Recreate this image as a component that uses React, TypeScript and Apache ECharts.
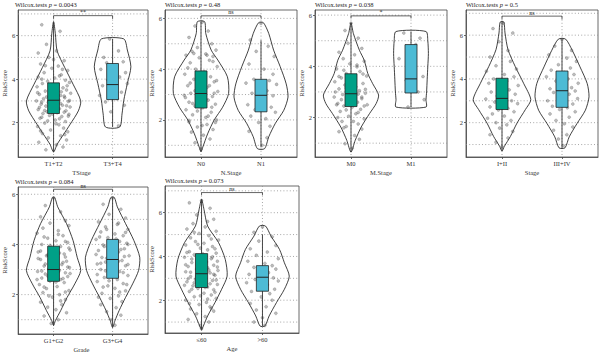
import React, { useEffect, useRef } from 'react';
import * as echarts from 'echarts';

const FONT = '"Liberation Serif", "DejaVu Serif", serif';

// ---------- data ----------
const P_VALUES = ['0.0043', '0.48', '0.038', '0.5', '0.084', '0.073'];
const AXIS_NAMES = ['TStage', 'N.Stage', 'M.Stage', 'Stage', 'Grade', 'Age'];
const CATEGORIES = [
  ['T1+T2', 'T3+T4'],
  ['N0', 'N1'],
  ['M0', 'M1'],
  ['I+II', 'III+IV'],
  ['G1+G2', 'G3+G4'],
  ['≤60', '>60'],
];
const SIGNIF = ['**', 'ns', '*', 'ns', 'ns', 'ns'];
const Y_RANGES = [[0.42, 7.18], [0.54, 6.33], [0.46, 6.2], [0.43, 7.15], [0.43, 6.29], [0.5, 7.22]];
const Y_TICKS = [2, 4, 6];
const GRID_VALUES = [1, 2, 3, 4, 5, 6, 7];
// bracket: [y of bar, y of tick ends]
const BRACKETS = [[6.92, 6.77], [6.1, 6.0], [5.97, 5.87], [6.87, 6.72], [6.2, 6.09], [6.92, 6.8]];

// box stats: [whisker low, Q1, median, Q3, whisker high]
const BOX_STATS = [
  [[0.65, 2.42, 3.03, 3.83, 6.6], [1.8, 3.06, 3.75, 4.72, 5.85]],
  [[0.75, 2.47, 3.04, 3.93, 5.87], [0.93, 2.32, 2.97, 3.6, 5.14]],
  [[0.65, 2.43, 2.93, 3.71, 5.7], [2.41, 2.96, 3.51, 4.85, 5.36]],
  [[0.7, 2.6, 3.11, 4.03, 6.6], [0.85, 2.7, 3.46, 4.36, 5.82]],
  [[0.77, 2.53, 3.0, 3.93, 5.87], [0.69, 2.65, 3.4, 4.2, 5.87]],
  [[0.65, 2.58, 3.21, 4.13, 6.61], [0.82, 2.41, 3.05, 3.58, 5.0]],
];

// violin outlines: [RiskScore, half width in category units], bottom to top
const VIOLIN_T12 = [[0.65, 0], [1.0, 0.06], [1.46, 0.17], [1.92, 0.28], [2.54, 0.42], [3.0, 0.46], [3.77, 0.33], [4.53, 0.19], [5.3, 0.06], [6.1, 0.03], [6.65, 0]];
const VIOLIN_T34 = [[1.8, 0.12], [2.4, 0.16], [3.03, 0.19], [3.8, 0.25], [4.57, 0.31], [5.34, 0.25], [5.85, 0.19]];
const VIOLIN_N0 = [[0.75, 0], [0.93, 0.03], [1.45, 0.11], [2.0, 0.22], [2.5, 0.36], [3.04, 0.46], [3.7, 0.44], [4.36, 0.28], [4.75, 0.17], [5.4, 0.08], [5.87, 0.06]];
const VIOLIN_N1 = [[0.87, 0.06], [1.34, 0.13], [1.87, 0.24], [2.38, 0.38], [2.9, 0.45], [3.42, 0.42], [4.1, 0.32], [4.75, 0.21], [5.4, 0.13], [5.83, 0.04]];
const VIOLIN_M0 = [[0.65, 0], [1.11, 0.07], [1.63, 0.17], [2.16, 0.31], [2.55, 0.42], [2.88, 0.46], [3.33, 0.36], [3.72, 0.28], [4.24, 0.22], [4.63, 0.14], [5.28, 0.04], [5.7, 0]];
const VIOLIN_M1 = [[2.41, 0.25], [2.7, 0.25], [3.0, 0.26], [3.5, 0.27], [4.0, 0.28], [4.5, 0.29], [5.0, 0.28], [5.36, 0.25]];
const VIOLIN_I12 = [[0.7, 0], [0.92, 0.04], [1.37, 0.14], [1.98, 0.25], [2.6, 0.39], [3.05, 0.48], [3.8, 0.36], [4.57, 0.22], [5.34, 0.1], [6.1, 0.05], [6.6, 0.03]];
const VIOLIN_I34 = [[0.85, 0.05], [1.35, 0.12], [1.96, 0.25], [2.57, 0.39], [3.18, 0.45], [3.79, 0.42], [4.55, 0.3], [5.31, 0.17], [5.82, 0.06]];
const VIOLIN_G12 = [[0.77, 0], [0.96, 0.03], [1.36, 0.12], [1.89, 0.23], [2.43, 0.36], [2.96, 0.46], [3.49, 0.4], [4.16, 0.33], [4.83, 0.22], [5.5, 0.07], [5.87, 0.02]];
const VIOLIN_G34 = [[0.69, 0], [0.96, 0.04], [1.36, 0.11], [1.89, 0.22], [2.43, 0.34], [2.96, 0.44], [3.49, 0.46], [4.16, 0.36], [4.83, 0.22], [5.5, 0.08], [5.87, 0.03]];
const VIOLIN_A1 = [[0.65, 0], [0.82, 0.03], [1.28, 0.1], [1.89, 0.22], [2.5, 0.33], [3.1, 0.42], [3.86, 0.39], [4.63, 0.28], [5.39, 0.1], [6.15, 0.04], [6.61, 0]];
const VIOLIN_A2 = [[0.82, 0.04], [1.28, 0.11], [1.89, 0.23], [2.5, 0.36], [3.1, 0.44], [3.71, 0.36], [4.32, 0.28], [4.93, 0.14], [5.39, 0.05]];

// jittered samples: [horizontal jitter, RiskScore]
const PTS_T12 = [[-0.2,6.5],[0.11,6.2],[-0.12,5.6],[0.05,5.3],[-0.08,5.0],[0.18,4.85],[-0.22,4.7],[0.08,4.6],[-0.03,4.5],[0.24,4.4],[-0.16,4.3],[0.13,4.2],[-0.26,4.1],[0.02,4.05],[0.2,3.95],[-0.1,3.9],[0.27,3.85],[-0.19,3.8],[0.07,3.72],[-0.28,3.65],[0.16,3.6],[-0.06,3.55],[0.22,3.5],[-0.14,3.45],[0.01,3.4],[0.29,3.35],[-0.24,3.3],[0.12,3.25],[-0.02,3.2],[0.19,3.15],[-0.17,3.1],[0.09,3.05],[-0.29,3.0],[0.25,2.97],[-0.09,2.93],[0.04,2.9],[-0.21,2.85],[0.15,2.8],[-0.13,2.76],[0.28,2.72],[-0.04,2.68],[0.1,2.64],[-0.26,2.6],[0.21,2.55],[-0.11,2.5],[0.06,2.46],[-0.18,2.42],[0.26,2.38],[-0.07,2.33],[0.14,2.28],[-0.23,2.2],[0.03,2.12],[0.2,2.05],[-0.15,1.98],[0.09,1.9],[-0.27,1.82],[0.17,1.75],[-0.05,1.66],[0.24,1.58],[-0.19,1.5],[0.12,1.4],[-0.09,1.3],[0.22,1.2],[-0.25,1.1],[0.05,0.98],[0.16,0.88],[-0.13,0.75],
  [0.1,4.15],[-0.2,4.0],[0.23,3.7],[-0.05,3.62],[0.13,3.42],[-0.27,3.38],[0.18,3.22],[-0.12,3.18],[0.03,3.08],[0.27,3.02],[-0.2,2.95],[0.12,2.88],[-0.06,2.82],[0.22,2.78],[-0.24,2.7],[0.07,2.62],[-0.15,2.56],[0.18,2.48],[-0.02,2.4],[0.25,2.3],[-0.2,2.25],[0.1,2.18],[-0.1,2.08],[0.04,1.95],[-0.22,1.62],[0.19,1.45],[0.0,4.9],[-0.14,4.62],[0.15,4.45],[-0.26,5.2]];
const PTS_T34 = [[-0.05,5.85],[0.1,5.3],[-0.15,5.0],[0.18,4.8],[-0.1,4.75],[0.05,4.6],[-0.2,4.45],[0.22,4.3],[0.12,4.1],[-0.08,3.95],[0.25,3.8],[-0.17,3.7],[0.03,3.6],[0.15,3.4],[-0.22,3.25],[0.08,3.1],[-0.12,2.95],[0.2,2.8],[-0.03,2.5],[0.1,1.85]];
const PTS_N0 = [[0.02,5.85],[-0.1,5.7],[0.12,5.5],[-0.2,5.25],[0.18,5.0],[-0.06,4.85],[0.25,4.75],[-0.15,4.7],[0.08,4.6],[-0.25,4.55],[0.2,4.5],[-0.03,4.45],[0.14,4.35],[-0.18,4.25],[0.27,4.1],[-0.09,4.0],[0.05,3.9],[-0.27,3.8],[0.16,3.7],[-0.12,3.6],[0.22,3.5],[0.0,3.42],[-0.22,3.35],[0.1,3.28],[-0.07,3.2],[0.28,3.12],[-0.17,3.05],[0.06,3.0],[-0.28,2.97],[0.19,2.92],[-0.04,2.85],[0.12,2.78],[-0.2,2.7],[0.24,2.62],[-0.1,2.55],[0.03,2.48],[-0.25,2.4],[0.17,2.3],[-0.14,2.2],[0.08,2.1],[0.26,2.0],[-0.2,1.92],[0.1,1.82],[-0.06,1.72],[0.2,1.62],[-0.16,1.52],[0.04,1.4],[0.15,1.25],[-0.1,1.1],[0.0,0.85],
  [0.1,4.55],[-0.12,4.62],[0.2,4.3],[-0.22,4.05],[0.06,3.85],[-0.04,3.65],[0.26,3.55],[-0.18,3.45],[0.14,3.35],[-0.1,3.15],[0.22,3.05],[-0.26,2.88],[0.08,2.82],[-0.14,2.65],[0.18,2.5],[-0.06,2.35],[0.12,2.15],[-0.2,1.98],[0.02,1.78],[0.24,1.9]];
const PTS_N1 = [[0.0,5.8],[-0.18,5.15],[0.12,4.9],[-0.08,4.7],[0.22,4.5],[-0.2,4.2],[0.05,4.0],[0.2,3.8],[-0.12,3.6],[0.14,3.55],[-0.25,3.45],[0.26,3.4],[-0.02,3.3],[0.1,3.15],[-0.15,3.05],[0.2,2.95],[-0.06,2.85],[0.06,2.75],[-0.22,2.6],[0.17,2.5],[-0.1,2.4],[0.24,2.3],[-0.17,2.15],[0.08,2.05],[-0.04,1.9],[0.15,1.75],[-0.2,1.55],[0.1,1.3],[0.02,1.0]];
const PTS_M0 = [[0.0,5.68],[-0.1,5.4],[0.12,5.1],[-0.05,4.9],[0.18,4.7],[-0.2,4.55],[0.06,4.45],[-0.13,4.3],[0.22,4.2],[-0.02,4.1],[0.1,3.98],[-0.24,3.9],[0.15,3.8],[-0.08,3.72],[0.26,3.62],[-0.16,3.55],[0.03,3.48],[-0.27,3.4],[0.2,3.33],[-0.1,3.27],[0.08,3.2],[-0.2,3.12],[0.14,3.05],[-0.04,3.0],[0.24,2.95],[-0.14,2.9],[0.05,2.85],[-0.28,2.8],[0.18,2.74],[-0.07,2.68],[0.11,2.6],[-0.22,2.55],[0.27,2.5],[-0.12,2.45],[0.02,2.4],[0.16,2.32],[-0.18,2.24],[0.08,2.15],[-0.04,2.05],[0.22,1.95],[-0.15,1.85],[0.12,1.75],[-0.08,1.65],[0.18,1.55],[-0.2,1.45],[0.06,1.3],[0.14,1.15],[-0.1,0.98],[0.02,0.8],
  [0.1,4.05],[-0.12,3.85],[0.2,3.7],[-0.2,3.6],[0.04,3.4],[-0.08,3.15],[0.24,3.1],[-0.26,3.0],[0.12,2.92],[-0.02,2.88],[0.18,2.8],[-0.16,2.7],[0.06,2.65],[-0.24,2.5],[0.22,2.45],[-0.08,2.3],[0.12,2.2],[-0.22,2.0],[0.04,1.85],[-0.12,1.6]];
const PTS_M1 = [[-0.12,5.3],[0.15,5.1],[0.08,4.85],[-0.2,4.3],[0.2,3.6],[-0.08,3.45],[0.12,3.0],[-0.05,2.41],[0.22,2.7]];
const PTS_I12 = [[0.02,6.55],[-0.15,6.3],[0.18,6.1],[-0.05,5.7],[0.1,5.3],[-0.2,5.0],[0.14,4.8],[-0.1,4.6],[0.24,4.45],[-0.26,4.35],[0.04,4.2],[0.2,4.1],[-0.14,4.0],[0.08,3.9],[-0.22,3.8],[0.27,3.7],[-0.03,3.6],[0.12,3.5],[-0.18,3.4],[0.22,3.3],[-0.08,3.22],[0.06,3.15],[-0.27,3.08],[0.16,3.0],[-0.12,2.94],[0.26,2.87],[0.0,2.8],[-0.2,2.72],[0.1,2.65],[-0.06,2.58],[0.2,2.5],[-0.16,2.4],[0.04,2.3],[-0.24,2.2],[0.15,2.1],[-0.1,2.0],[0.08,1.9],[-0.04,1.75],[0.18,1.6],[-0.2,1.45],[0.1,1.3],[-0.1,1.1],[0.0,0.9]];
const PTS_I34 = [[0.0,5.8],[-0.12,5.5],[0.16,5.3],[-0.22,5.1],[0.08,4.95],[0.24,4.8],[-0.06,4.65],[0.14,4.5],[-0.18,4.4],[0.04,4.3],[0.2,4.2],[-0.26,4.1],[0.1,4.0],[-0.1,3.9],[0.27,3.8],[-0.02,3.7],[0.16,3.6],[-0.2,3.55],[0.06,3.5],[0.22,3.45],[-0.14,3.38],[0.12,3.3],[-0.06,3.2],[0.26,3.1],[-0.24,3.0],[0.02,2.92],[0.18,2.85],[-0.16,2.75],[0.09,2.68],[-0.04,2.6],[0.22,2.5],[-0.2,2.4],[0.12,2.25],[-0.1,2.1],[0.04,1.95],[0.18,1.8],[-0.14,1.65],[0.08,1.45],[-0.06,1.25],[0.02,0.95]];
const PTS_G12 = [[0.0,5.85],[-0.14,5.55],[0.12,5.3],[-0.22,5.1],[0.2,4.95],[-0.06,4.85],[0.26,4.75],[-0.18,4.65],[0.08,4.55],[-0.28,4.45],[0.16,4.35],[-0.1,4.25],[0.04,4.15],[0.24,4.08],[-0.2,4.0],[0.12,3.92],[-0.04,3.85],[0.28,3.78],[-0.26,3.7],[0.18,3.62],[-0.12,3.55],[0.06,3.48],[-0.22,3.4],[0.22,3.33],[-0.02,3.27],[0.14,3.2],[-0.16,3.14],[0.27,3.08],[-0.08,3.02],[0.1,2.97],[-0.27,2.92],[0.2,2.87],[-0.14,2.82],[0.02,2.77],[0.24,2.72],[-0.2,2.66],[0.12,2.6],[-0.06,2.54],[0.18,2.48],[-0.24,2.4],[0.06,2.32],[-0.12,2.24],[0.26,2.16],[-0.18,2.08],[0.1,2.0],[-0.02,1.9],[0.2,1.8],[-0.22,1.7],[0.14,1.6],[-0.1,1.5],[0.04,1.4],[0.22,1.28],[-0.16,1.15],[0.08,1.0],[-0.04,0.85],
  [0.08,4.4],[-0.16,4.3],[0.2,4.12],[-0.06,3.96],[0.26,3.86],[-0.22,3.74],[0.1,3.66],[-0.1,3.58],[0.2,3.5],[-0.26,3.44],[0.04,3.36],[0.16,3.28],[-0.14,3.22],[0.24,3.1],[-0.04,3.05],[-0.2,2.94],[0.08,2.9],[0.28,2.84],[-0.1,2.74],[0.16,2.64],[-0.28,2.6],[0.04,2.5],[-0.16,2.3],[0.2,2.1],[-0.08,1.95],[0.12,1.75]];
const PTS_G34 = [[0.0,5.85],[-0.16,5.6],[0.14,5.4],[-0.06,5.2],[0.22,5.05],[-0.24,4.9],[0.08,4.8],[-0.12,4.7],[0.26,4.6],[-0.2,4.5],[0.04,4.42],[0.18,4.35],[-0.08,4.27],[-0.28,4.2],[0.12,4.12],[0.24,4.05],[-0.16,3.98],[0.02,3.9],[0.2,3.83],[-0.24,3.76],[0.1,3.7],[-0.06,3.62],[0.28,3.55],[-0.18,3.48],[0.06,3.42],[0.16,3.36],[-0.12,3.3],[-0.26,3.22],[0.22,3.15],[0.02,3.08],[-0.2,3.0],[0.12,2.92],[-0.04,2.84],[0.26,2.76],[-0.14,2.68],[0.08,2.6],[-0.26,2.52],[0.18,2.44],[-0.08,2.35],[0.04,2.25],[0.22,2.15],[-0.18,2.05],[0.1,1.95],[-0.04,1.85],[0.16,1.72],[-0.2,1.6],[0.06,1.48],[-0.1,1.32],[0.14,1.18],[-0.02,1.0],[0.04,0.78],
  [0.1,4.85],[-0.1,4.6],[0.22,4.48],[-0.22,4.3],[0.06,4.22],[0.26,4.0],[-0.14,3.92],[0.14,3.8],[-0.02,3.74],[-0.28,3.6],[0.2,3.52],[-0.1,3.45],[0.1,3.33],[-0.2,3.25],[0.26,3.2],[0.0,3.12],[-0.12,2.95],[0.18,2.88],[-0.26,2.8],[0.08,2.72],[-0.06,2.55],[0.24,2.4],[-0.16,2.3],[0.12,2.1],[-0.24,1.9]];
const PTS_A1 = [[0.0,6.55],[-0.2,6.45],[0.14,6.2],[-0.08,5.9],[0.2,5.7],[-0.14,5.5],[0.06,5.35],[-0.24,5.25],[0.24,5.15],[-0.04,5.05],[0.12,4.95],[-0.18,4.85],[0.28,4.75],[-0.1,4.68],[0.04,4.6],[-0.26,4.52],[0.18,4.45],[-0.02,4.38],[0.1,4.3],[-0.2,4.22],[0.24,4.15],[-0.12,4.08],[0.06,4.02],[-0.28,3.96],[0.16,3.9],[-0.06,3.84],[0.26,3.78],[-0.16,3.72],[0.02,3.66],[0.2,3.6],[-0.22,3.54],[0.1,3.48],[-0.08,3.42],[0.27,3.36],[-0.26,3.3],[0.14,3.25],[-0.03,3.2],[0.22,3.14],[-0.18,3.08],[0.06,3.02],[-0.1,2.96],[0.18,2.9],[-0.24,2.84],[0.02,2.78],[0.26,2.72],[-0.14,2.66],[0.1,2.6],[-0.06,2.54],[0.2,2.48],[-0.2,2.4],[0.04,2.32],[0.16,2.24],[-0.12,2.16],[0.24,2.08],[-0.26,2.0],[0.08,1.9],[-0.04,1.8],[0.14,1.7],[-0.18,1.6],[0.2,1.5],[-0.08,1.38],[0.06,1.25],[-0.22,1.12],[0.12,1.0],[-0.02,0.85],[0.0,0.7],
  [0.1,5.6],[-0.12,5.1],[0.16,4.8],[-0.06,4.55],[0.22,4.35],[-0.24,4.18],[0.02,4.12],[0.18,3.98],[-0.16,3.88],[0.08,3.75],[-0.26,3.62],[0.26,3.52],[-0.04,3.45],[0.12,3.38],[-0.18,3.28],[0.2,3.18],[-0.08,3.1],[0.04,3.05],[-0.22,2.98],[0.24,2.92],[-0.12,2.8],[0.14,2.75],[-0.28,2.68],[0.06,2.58],[-0.16,2.5],[0.22,2.36],[-0.02,2.2],[0.1,2.05],[-0.2,1.85],[0.16,1.62]];
const PTS_A2 = [[0.0,5.35],[-0.14,5.1],[0.16,4.9],[-0.06,4.7],[0.22,4.5],[-0.2,4.35],[0.08,4.2],[-0.1,4.05],[0.26,3.9],[-0.24,3.78],[0.04,3.68],[0.16,3.58],[-0.14,3.5],[0.22,3.42],[-0.04,3.34],[0.1,3.26],[-0.22,3.18],[0.02,3.1],[0.18,3.02],[-0.12,2.95],[0.26,2.88],[-0.26,2.8],[0.08,2.7],[-0.06,2.6],[0.2,2.5],[-0.18,2.4],[0.12,2.3],[-0.02,2.15],[0.16,2.0],[-0.2,1.85],[0.06,1.7],[-0.1,1.55],[0.22,1.4],[0.0,1.2],[-0.14,1.0],[0.04,0.85]];

const VIOLINS = [
  [VIOLIN_T12, VIOLIN_T34],
  [VIOLIN_N0, VIOLIN_N1],
  [VIOLIN_M0, VIOLIN_M1],
  [VIOLIN_I12, VIOLIN_I34],
  [VIOLIN_G12, VIOLIN_G34],
  [VIOLIN_A1, VIOLIN_A2],
];
const POINTS = [
  [PTS_T12, PTS_T34],
  [PTS_N0, PTS_N1],
  [PTS_M0, PTS_M1],
  [PTS_I12, PTS_I34],
  [PTS_G12, PTS_G34],
  [PTS_A1, PTS_A2],
];

// ---------- layout / style ----------
const GRID_BOXES = [
  [15, 10, 133, 147],
  [165, 10, 132, 147],
  [315, 10, 132, 147],
  [466, 10, 132, 147],
  [15, 187, 133, 147],
  [165, 186, 134, 147],
];
const BOX_COLORS = ['#00A087', '#4DBBD5'];
const TXT = '#333';

function buildOption() {
  const grid: any[] = [];
  const xAxis: any[] = [];
  const yAxis: any[] = [];
  const series: any[] = [];
  const graphic: any[] = [];

  for (let p = 0; p < 6; p++) {
    const [l, t, w, h] = GRID_BOXES[p];
    const [ymin, ymax] = Y_RANGES[p];
    grid.push({ left: l, top: t, width: w, height: h, show: true, borderColor: '#444', borderWidth: 0.8, backgroundColor: '#fff' });
    // panel title
    graphic.push({
      type: 'text', x: l, y: t - 9.5, silent: true,
      style: {
        text: 'Wilcox.tests {i|p} = ' + P_VALUES[p],
        fontSize: 6.5, fontFamily: FONT, fill: '#222', align: 'left', verticalAlign: 'top',
        rich: { i: { fontStyle: 'italic', fontSize: 6.5, fontFamily: FONT, fill: '#222' } },
      },
    });
    // x axis title
    graphic.push({
      type: 'text', x: l + w / 2, y: t + h + 11.5, silent: true,
      style: { text: AXIS_NAMES[p], fontSize: 6.5, fontFamily: FONT, fill: TXT, align: 'center', verticalAlign: 'top' },
    });
    xAxis.push({
      gridIndex: p, type: 'value', min: 0.4, max: 2.6,
      axisLine: { show: true, lineStyle: { color: '#444', width: 0.8 } },
      axisTick: { show: true, length: 2, customValues: [1, 2], lineStyle: { color: '#444', width: 0.8 } },
      axisLabel: {
        customValues: [1, 2], margin: 3, fontSize: 6.5, fontFamily: FONT, color: TXT,
        formatter: (v: number) => CATEGORIES[p][Math.round(v) - 1] ?? '',
      },
      splitLine: { show: false },
    });
    yAxis.push({
      gridIndex: p, type: 'value', min: ymin, max: ymax,
      name: 'RiskScore', nameLocation: 'middle', nameGap: 7,
      nameTextStyle: { fontSize: 6.5, fontFamily: FONT, color: TXT },
      axisLine: { show: true, lineStyle: { color: '#444', width: 0.8 } },
      axisTick: { show: true, length: 2, customValues: Y_TICKS, lineStyle: { color: '#444', width: 0.8 } },
      axisLabel: { customValues: Y_TICKS, margin: 3, fontSize: 6.5, fontFamily: FONT, color: TXT },
      splitLine: { show: false },
    });

    // horizontal dotted grid lines
    series.push({
      type: 'custom', xAxisIndex: p, yAxisIndex: p, z: 1, silent: true, clip: true,
      data: GRID_VALUES.filter((v) => v > ymin && v < ymax).map((v) => [1, v]),
      renderItem: (params: any, api: any) => {
        const y = api.coord([1, api.value(1)])[1];
        const cs = params.coordSys;
        return {
          type: 'line',
          shape: { x1: cs.x, y1: y, x2: cs.x + cs.width, y2: y },
          style: { stroke: '#8a8a8a', lineWidth: 0.75, lineDash: [1, 2.2] },
        };
      },
    });
    // vertical dotted grid lines at the categories
    series.push({
      type: 'custom', xAxisIndex: p, yAxisIndex: p, z: 1, silent: true, clip: true,
      data: [[1, 3], [2, 3]],
      renderItem: (params: any, api: any) => {
        const x = api.coord([api.value(0), 3])[0];
        const cs = params.coordSys;
        return {
          type: 'line',
          shape: { x1: x, y1: cs.y, x2: x, y2: cs.y + cs.height },
          style: { stroke: '#8a8a8a', lineWidth: 0.75, lineDash: [1, 2.2] },
        };
      },
    });
    // violins
    series.push({
      type: 'custom', xAxisIndex: p, yAxisIndex: p, z: 2, silent: true, clip: true,
      data: [[1, BOX_STATS[p][0][2]], [2, BOX_STATS[p][1][2]]],
      renderItem: (params: any, api: any) => {
        const idx = params.dataIndex;
        const xc = api.value(0);
        const prof = VIOLINS[p][idx];
        const pts: number[][] = [];
        for (let k = 0; k < prof.length; k++) pts.push(api.coord([xc + prof[k][1], prof[k][0]]));
        for (let k = prof.length - 1; k >= 0; k--) {
          if (prof[k][1] === 0) continue;
          pts.push(api.coord([xc - prof[k][1], prof[k][0]]));
        }
        return {
          type: 'polygon',
          shape: { points: pts, smooth: 0.25 },
          style: { fill: 'rgba(0,0,0,0)', stroke: '#111', lineWidth: 0.8 },
        };
      },
    });
    // jittered points
    const scatterData: number[][] = [];
    POINTS[p].forEach((grp, gi) => grp.forEach(([dx, y]) => scatterData.push([gi + 1 + dx, y])));
    series.push({
      type: 'scatter', xAxisIndex: p, yAxisIndex: p, z: 3, silent: true,
      symbolSize: 3,
      itemStyle: { color: 'rgba(90,90,90,0.5)', borderColor: 'rgba(50,50,50,0.6)', borderWidth: 0.4 },
      data: scatterData,
    });
    // boxes
    series.push({
      type: 'custom', xAxisIndex: p, yAxisIndex: p, z: 4, silent: true, clip: true,
      data: BOX_STATS[p].map((s, gi) => [gi + 1, ...s]),
      renderItem: (params: any, api: any) => {
        const idx = params.dataIndex;
        const x = api.value(0);
        const lo = api.value(1), q1 = api.value(2), md = api.value(3), q3 = api.value(4), hi = api.value(5);
        const bw = 0.1;
        const pLo = api.coord([x, lo]);
        const pHi = api.coord([x, hi]);
        const tl = api.coord([x - bw, q3]);
        const br = api.coord([x + bw, q1]);
        const mL = api.coord([x - bw, md]);
        const mR = api.coord([x + bw, md]);
        return {
          type: 'group',
          children: [
            { type: 'line', shape: { x1: pLo[0], y1: pLo[1], x2: pHi[0], y2: pHi[1] }, style: { stroke: '#333', lineWidth: 0.9 } },
            { type: 'rect', shape: { x: tl[0], y: tl[1], width: br[0] - tl[0], height: br[1] - tl[1] }, style: { fill: BOX_COLORS[idx], stroke: '#222', lineWidth: 0.8 } },
            { type: 'line', shape: { x1: mL[0], y1: mL[1], x2: mR[0], y2: mR[1] }, style: { stroke: '#222', lineWidth: 1 } },
          ],
        };
      },
    });
    // significance bracket
    series.push({
      type: 'custom', xAxisIndex: p, yAxisIndex: p, z: 5, silent: true, clip: false,
      data: [[1, BRACKETS[p][0], 2, BRACKETS[p][1]]],
      renderItem: (params: any, api: any) => {
        const x1 = api.value(0), y = api.value(1), x2 = api.value(2), yt = api.value(3);
        const a = api.coord([x1, yt]);
        const b = api.coord([x1, y]);
        const c = api.coord([x2, y]);
        const d = api.coord([x2, yt]);
        return {
          type: 'group',
          children: [
            { type: 'polyline', shape: { points: [a, b, c, d] }, style: { stroke: '#222', lineWidth: 0.7, fill: 'none' } },
            {
              type: 'text', x: (b[0] + c[0]) / 2, y: b[1] - 0.5,
              style: { text: SIGNIF[p], fontSize: 6, fontFamily: FONT, fill: '#222', align: 'center', verticalAlign: 'bottom' },
            },
          ],
        };
      },
    });
  }

  return {
    animation: false,
    backgroundColor: '#ffffff',
    grid,
    xAxis,
    yAxis,
    series,
    graphic: { elements: graphic },
  };
}

export default function App() {
  const ref = useRef<HTMLDivElement>(null);
  useEffect(() => {
    if (!ref.current) return;
    const chart = echarts.init(ref.current, undefined, { renderer: 'svg' });
    chart.setOption(buildOption() as any);
    return () => chart.dispose();
  }, []);
  return <div ref={ref} style={{ position: 'absolute', left: 0, top: 0, width: 600, height: 353 }} />;
}
